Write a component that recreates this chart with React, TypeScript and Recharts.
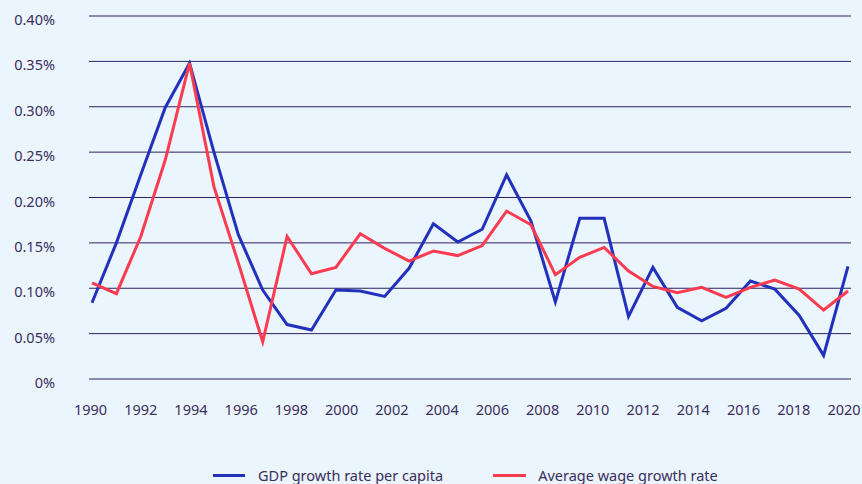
import React from 'react';
import { LineChart, Line, XAxis, YAxis, CartesianGrid, Legend } from 'recharts';

const yearLabels = ['1990','1992','1994','1996','1998','2000','2002','2004','2006','2008','2010','2012','2014','2016','2018','2020'];
const yTicks = [0, 0.05, 0.1, 0.15, 0.2, 0.25, 0.3, 0.35, 0.4];

// 32 observations spread evenly across the 1990–2020 axis
const gdpGrowth = [0.084, 0.15, 0.225, 0.299, 0.348, 0.25, 0.159, 0.098, 0.06, 0.054, 0.098, 0.097, 0.091, 0.122, 0.171, 0.151, 0.165, 0.225, 0.174, 0.085, 0.177, 0.177, 0.069, 0.123, 0.079, 0.064, 0.078, 0.108, 0.099, 0.07, 0.026, 0.124];
const wageGrowth = [0.106, 0.094, 0.157, 0.241, 0.348, 0.212, 0.128, 0.041, 0.157, 0.116, 0.123, 0.16, 0.144, 0.13, 0.141, 0.136, 0.147, 0.185, 0.17, 0.115, 0.134, 0.145, 0.119, 0.102, 0.095, 0.101, 0.09, 0.101, 0.109, 0.099, 0.076, 0.097];

const seriesNames = { gdp: 'GDP growth rate per capita', wage: 'Average wage growth rate' };
const colors = { gdp: '#2230bb', wage: '#fb3b4f', grid: '#2e2060', text: '#3a2d5c', bg: '#eaf5fd' };

const n = gdpGrowth.length;
const data = gdpGrowth.map((g, i) => ({ i, gdp: g, wage: wageGrowth[i] }));
const yearTicks = yearLabels.map(Number);
const firstYear = yearTicks[0];
const lastYear = yearTicks[yearTicks.length - 1];

const font = '"Noto Sans", sans-serif';

const XTick = (props: any) => {
  const { x, y, payload } = props;
  return (
    <text x={x} y={y + 36} textAnchor="middle" fill={colors.text} fontSize={14.5} fontFamily={font}>
      {payload.value}
    </text>
  );
};

const YTick = (props: any) => {
  const { x, y, payload } = props;
  const v = payload.value;
  const label = v === 0 ? '0%' : v.toFixed(2) + '%';
  return (
    <text x={x} y={y + 9} textAnchor="end" fill={colors.text} fontSize={14.5} fontFamily={font}>
      {label}
    </text>
  );
};

const LegendContent = () => (
  <div style={{ height: 18, width: 862, boxSizing: 'border-box', paddingLeft: 213, display: 'flex', alignItems: 'center', fontFamily: font, fontSize: 14.5, color: colors.text }}>
    <div style={{ display: 'flex', alignItems: 'center', marginRight: 50 }}>
      <div style={{ width: 32, height: 3, background: colors.gdp, marginRight: 13 }} />
      <span>{seriesNames.gdp}</span>
    </div>
    <div style={{ display: 'flex', alignItems: 'center' }}>
      <div style={{ width: 33, height: 3, background: colors.wage, marginRight: 12 }} />
      <span>{seriesNames.wage}</span>
    </div>
  </div>
);

export default function App() {
  return (
    <div style={{ position: 'absolute', left: 0, top: 0, width: 862, height: 484, background: colors.bg }}>
      <LineChart width={862} height={484} data={data} margin={{ top: 16, right: 11, bottom: 0, left: 0 }}>
        <CartesianGrid vertical={false} stroke={colors.grid} strokeWidth={1} xAxisId="obs" />
        <XAxis
          xAxisId="obs"
          dataKey="i"
          type="number"
          domain={[0, n - 1]}
          hide
          height={0}
          padding={{ left: 3, right: 3 }}
        />
        <XAxis
          xAxisId="years"
          dataKey="i"
          type="number"
          domain={[firstYear, lastYear]}
          allowDataOverflow
          ticks={yearTicks}
          interval={0}
          axisLine={false}
          tickLine={false}
          tickSize={0}
          tickMargin={0}
          height={87}
          padding={{ left: 1.5, right: 7 }}
          tick={<XTick />}
        />
        <YAxis
          type="number"
          domain={[0, 0.4]}
          ticks={yTicks}
          interval={0}
          axisLine={false}
          tickLine={false}
          tickSize={0}
          tickMargin={34}
          width={89}
          tick={<YTick />}
        />
        <Legend verticalAlign="bottom" height={18} content={<LegendContent />} />
        <Line xAxisId="obs" type="linear" dataKey="gdp" name={seriesNames.gdp} stroke={colors.gdp} strokeWidth={3} dot={false} isAnimationActive={false} />
        <Line xAxisId="obs" type="linear" dataKey="wage" name={seriesNames.wage} stroke={colors.wage} strokeWidth={3} dot={false} isAnimationActive={false} />
      </LineChart>
    </div>
  );
}
